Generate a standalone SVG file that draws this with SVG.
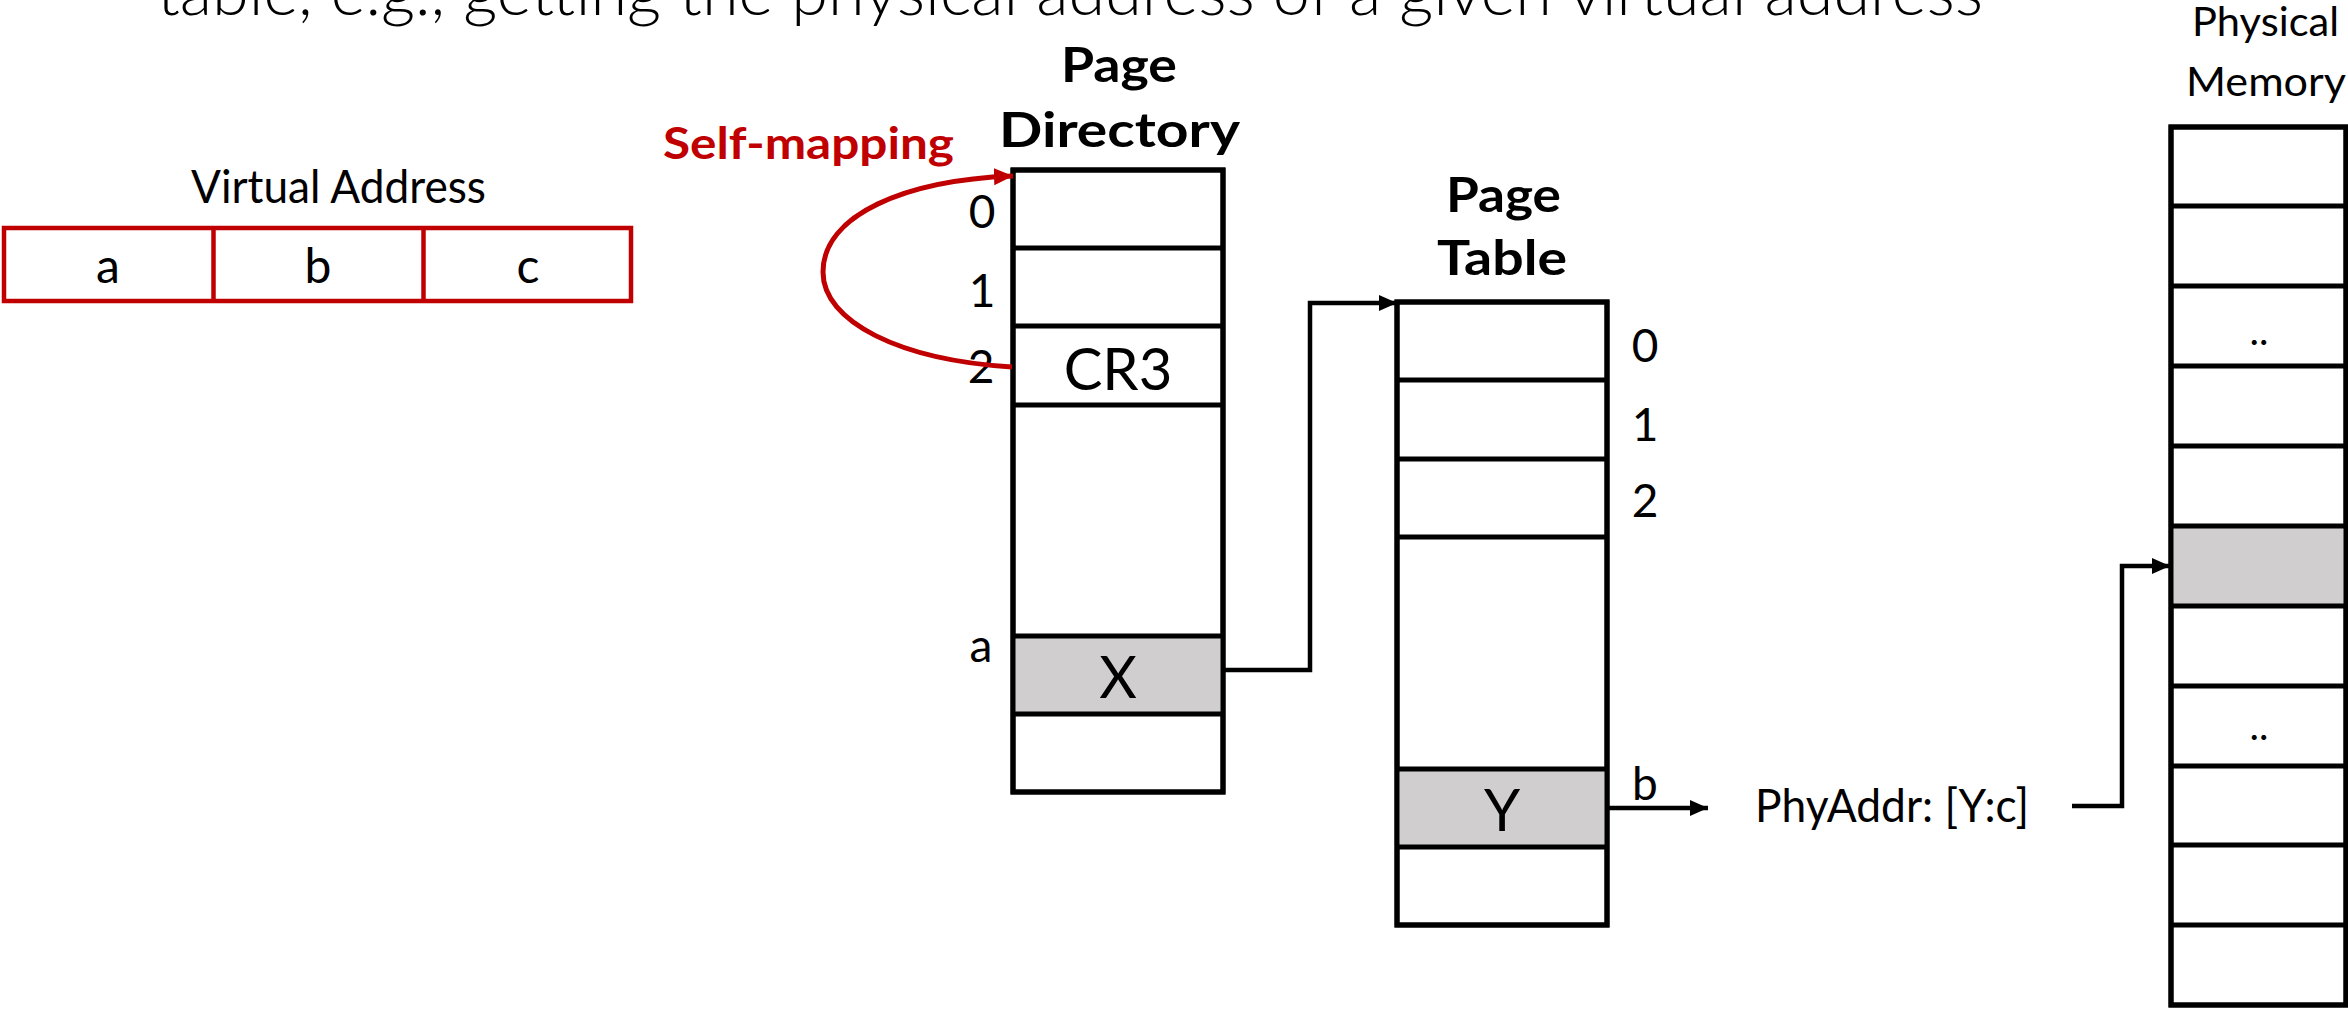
<svg xmlns="http://www.w3.org/2000/svg" width="2348" height="1009" viewBox="0 0 2348 1009">
  <style>
    text { font-family: Lato, "Open Sans", "Liberation Sans", sans-serif; fill: #000; }
    .title { font-size: 66px; font-weight: 300; }
    .head { font-size: 48px; font-weight: 700; }
    .lbl { font-size: 46px; }
    .idx { font-size: 46px; text-anchor: middle; }
    .cell { font-size: 58px; text-anchor: middle; }
    .va { font-size: 48px; text-anchor: middle; }
    .dots { font-size: 40px; text-anchor: middle; }
    .red { fill: #C00000; }
    .box { fill: #fff; stroke: #000; stroke-width: 5; }
    .row { stroke: #000; stroke-width: 5; }
    .hl { fill: #D0CECF; }
    .vabox { fill: #fff; stroke: #C00000; stroke-width: 4.5; }
    .wire { fill: none; stroke: #000; stroke-width: 4.5; }
    .selfmap { fill: none; stroke: #C00000; stroke-width: 5; }
  </style>
  <defs>
    <marker id="arrow" markerUnits="userSpaceOnUse" markerWidth="20" markerHeight="18" refX="18" refY="8" orient="auto">
      <path d="M0,0 L18,8 L0,16 Z" fill="#000"/>
    </marker>
    <marker id="arrow-red" markerUnits="userSpaceOnUse" markerWidth="22" markerHeight="18" refX="19" refY="8.5" orient="auto">
      <path d="M0,0 L19,8.5 L0,17 Z" fill="#C00000"/>
    </marker>
  </defs>
  <rect width="2348" height="1009" fill="#fff"/>

  <!-- heading line, clipped by the top edge -->
  <g id="heading">
    <text class="title" x="157" y="15" textLength="1826" lengthAdjust="spacingAndGlyphs">table, e.g., getting the physical address of a given virtual address</text>
  </g>

  <!-- virtual address split into three fields -->
  <g id="virtual-address">
    <text class="lbl" x="191" y="203" textLength="295" lengthAdjust="spacingAndGlyphs">Virtual Address</text>
    <rect class="vabox" x="4" y="228" width="627" height="73"/>
    <line x1="213.5" y1="228" x2="213.5" y2="301" stroke="#C00000" stroke-width="4.5"/>
    <line x1="423.5" y1="228" x2="423.5" y2="301" stroke="#C00000" stroke-width="4.5"/>
    <text class="va" x="108" y="283">a</text>
    <text class="va" x="318" y="283">b</text>
    <text class="va" x="528" y="283">c</text>
  </g>

  <!-- page directory -->
  <g id="page-directory">
    <text class="head" x="1061" y="82" textLength="116" lengthAdjust="spacingAndGlyphs">Page</text>
    <text class="head" x="999" y="147" textLength="241" lengthAdjust="spacingAndGlyphs">Directory</text>
    <rect class="box" x="1013" y="170" width="210" height="622"/>
    <rect class="hl" x="1013" y="636" width="210" height="78"/>
    <rect x="1013" y="170" width="210" height="622" fill="none" stroke="#000" stroke-width="5"/>
    <line class="row" x1="1013" y1="248" x2="1223" y2="248"/>
    <line class="row" x1="1013" y1="326" x2="1223" y2="326"/>
    <line class="row" x1="1013" y1="405" x2="1223" y2="405"/>
    <line class="row" x1="1013" y1="636" x2="1223" y2="636"/>
    <line class="row" x1="1013" y1="714" x2="1223" y2="714"/>
    <text class="idx" x="982" y="228">0</text>
    <text class="idx" x="982" y="307">1</text>
    <text class="idx" x="981" y="383">2</text>
    <text class="idx" x="981" y="662">a</text>
    <text class="cell" x="1118" y="390">CR3</text>
    <text class="cell" x="1118" y="698">X</text>
  </g>

  <!-- page table -->
  <g id="page-table">
    <text class="head" x="1446" y="212" textLength="115" lengthAdjust="spacingAndGlyphs">Page</text>
    <text class="head" x="1437" y="275" textLength="130" lengthAdjust="spacingAndGlyphs">Table</text>
    <rect class="box" x="1397" y="302" width="210" height="623"/>
    <rect class="hl" x="1397" y="769" width="210" height="78"/>
    <rect x="1397" y="302" width="210" height="623" fill="none" stroke="#000" stroke-width="5"/>
    <line class="row" x1="1397" y1="380" x2="1607" y2="380"/>
    <line class="row" x1="1397" y1="459" x2="1607" y2="459"/>
    <line class="row" x1="1397" y1="537" x2="1607" y2="537"/>
    <line class="row" x1="1397" y1="769" x2="1607" y2="769"/>
    <line class="row" x1="1397" y1="847" x2="1607" y2="847"/>
    <text class="idx" x="1645" y="362">0</text>
    <text class="idx" x="1645" y="441">1</text>
    <text class="idx" x="1645" y="517">2</text>
    <text class="idx" x="1645" y="800">b</text>
    <text class="cell" x="1502" y="831">Y</text>
  </g>

  <!-- resulting physical address -->
  <g id="phy-addr">
    <text class="lbl" x="1755" y="822" textLength="274" lengthAdjust="spacingAndGlyphs">PhyAddr: [Y:c]</text>
  </g>

  <!-- physical memory frames -->
  <g id="physical-memory">
    <text class="lbl" x="2192" y="36" textLength="147" lengthAdjust="spacingAndGlyphs" style="font-size:41px">Physical</text>
    <text class="lbl" x="2186" y="96" textLength="160" lengthAdjust="spacingAndGlyphs" style="font-size:41px">Memory</text>
    <rect class="box" x="2171" y="127" width="175" height="878"/>
    <rect class="hl" x="2171" y="526" width="175" height="80"/>
    <rect x="2171" y="127" width="175" height="878" fill="none" stroke="#000" stroke-width="5"/>
    <line class="row" x1="2171" y1="206" x2="2346" y2="206"/>
    <line class="row" x1="2171" y1="286" x2="2346" y2="286"/>
    <line class="row" x1="2171" y1="366" x2="2346" y2="366"/>
    <line class="row" x1="2171" y1="446" x2="2346" y2="446"/>
    <line class="row" x1="2171" y1="526" x2="2346" y2="526"/>
    <line class="row" x1="2171" y1="606" x2="2346" y2="606"/>
    <line class="row" x1="2171" y1="686" x2="2346" y2="686"/>
    <line class="row" x1="2171" y1="766" x2="2346" y2="766"/>
    <line class="row" x1="2171" y1="845" x2="2346" y2="845"/>
    <line class="row" x1="2171" y1="925" x2="2346" y2="925"/>
    <text class="dots" x="2259" y="345">..</text>
    <text class="dots" x="2259" y="740">..</text>
  </g>

  <!-- connectors -->
  <g id="connectors">
    <path class="wire" d="M1225,670 H1310 V303 H1397" marker-end="url(#arrow)"/>
    <path class="wire" d="M1609,808 H1708" marker-end="url(#arrow)"/>
    <path class="wire" d="M2072,806 H2122 V566 H2170" marker-end="url(#arrow)"/>
    <path class="selfmap" d="M1012,367 C900,360 823,322 823,272 C823,215 905,180 1013,176" marker-end="url(#arrow-red)"/>
    <text class="head red" x="663" y="159" textLength="291" lengthAdjust="spacingAndGlyphs" style="font-size:43px">Self-mapping</text>
  </g>
</svg>
